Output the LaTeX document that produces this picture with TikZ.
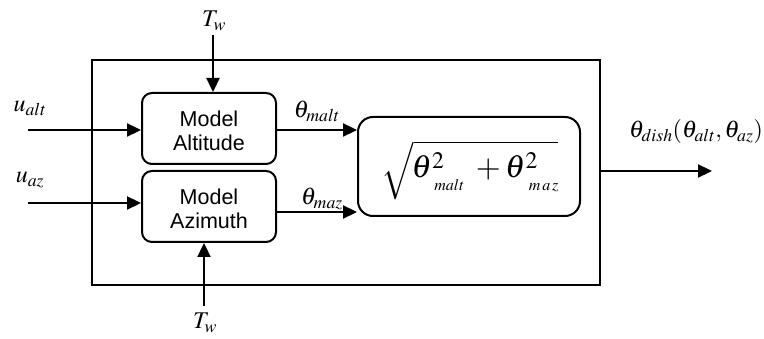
\documentclass[tikz,border=0pt]{standalone}
\usepackage{mathptmx}
\usepackage[no-math]{fontspec}
\setsansfont{Liberation Sans}
\usetikzlibrary{arrows.meta}
\newcommand{\lowsub}[1]{\raisebox{-13pt}{\fontsize{16}{16}\selectfont$#1$}}
\tikzset{
  blk/.style={draw, line width=2pt, rounded corners=10pt, inner sep=0pt},
  wire/.style={line width=2.3pt, -{Triangle[length=14pt,width=13pt]}},
  lbl/.style={inner sep=0pt, font=\fontsize{24}{26}\selectfont},
  btxt/.style={font=\sffamily\fontsize{21.5}{24.5}\selectfont, align=center}
}
\begin{document}
\begin{tikzpicture}[x=1pt,y=-1pt]
\useasboundingbox (0,0) rectangle (764,339);
\draw[line width=2.3pt] (92,60) rectangle (600,285);
\node[blk, minimum width=134pt, minimum height=71pt,
  label={[btxt, yshift=-2.5pt]center:Model\\Altitude}] (alt) at (209,128.5) {};
\node[blk, minimum width=134pt, minimum height=71pt,
  label={[btxt, yshift=-2.5pt]center:Model\\Azimuth}] (az) at (209,206.5) {};
\node[blk, rounded corners=15pt, minimum width=222pt, minimum height=99pt] (sq) at (469,166.5) {};
\node[inner sep=0pt] (sqt) at (470,170) {\fontsize{32}{34}\selectfont$\sqrt{\kern-2pt\theta^{2}\kern-10pt\lowsub{malt}\;+\theta^{2}\kern-9pt\lowsub{m\,a\,z}}$};
% inputs
\coordinate (ualts) at (28,130);
\coordinate (uazs) at (28,203);
\node[lbl] (ualt) at (30,108) {$u_{alt}$};
\node[lbl] (uaz) at (30,180) {$u_{az}$};
\draw[wire] (ualts) -- (ualts -| alt.west);
\draw[wire] (uazs) -- (uazs -| az.west);
\node[lbl] (tw1) at (214,21) {$T_w$};
\node[lbl] (tw2) at (205,323) {$T_w$};
\coordinate (tw1s) at (213,35);
\coordinate (tw2s) at (204,306);
\draw[wire] (tw1s) -- (tw1s |- alt.north);
\draw[wire] (tw2s) -- (tw2s |- az.south);
% between
\coordinate (m1) at (276,130);
\coordinate (m2) at (276,212);
\draw[wire] (m1) -- (m1 -| sq.west);
\draw[wire] (m2) -- (m2 -| sq.west);
\node[lbl] (thm1) at (317,111) {$\theta_{malt}$};
\node[lbl] (thm2) at (322,199) {$\theta_{maz}$};
% output
\coordinate (o1) at (600,171);
\coordinate (o2) at (712,171);
\draw[wire] (o1) -- (o2);
\node[lbl] (thd) at (696,132) {$\theta_{dish}(\theta_{alt},\theta_{az})$};
\end{tikzpicture}
\end{document}
